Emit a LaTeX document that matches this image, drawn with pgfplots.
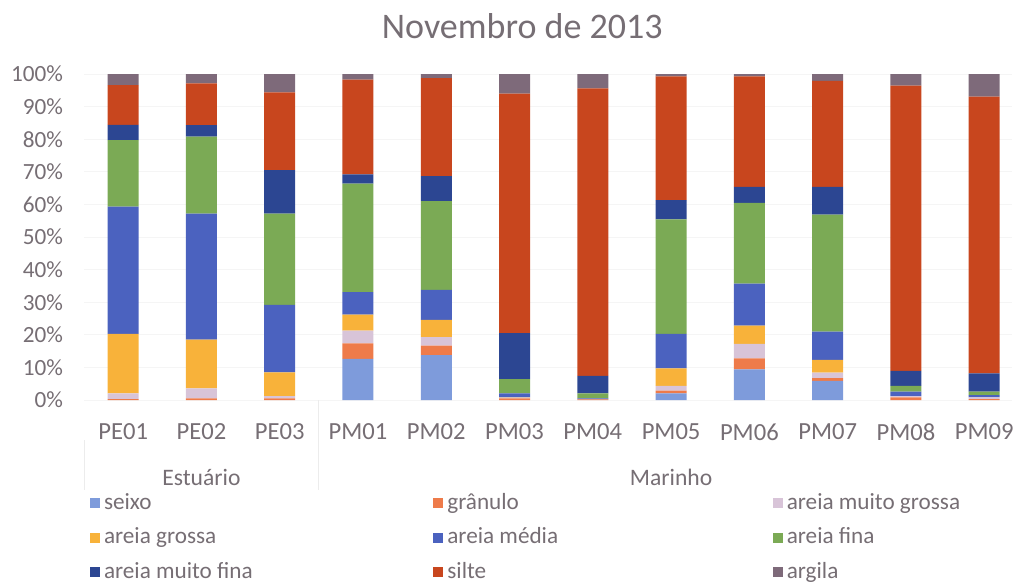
\documentclass[border=0pt]{standalone}
\usepackage{fontspec}
\setmainfont{Carlito}
\usepackage{pgfplots}
\usepackage{pgfplotstable}
\pgfplotsset{compat=1.18}

\definecolor{txt}{RGB}{118,110,116}
\definecolor{cseixo}{RGB}{126,155,219}
\definecolor{cgran}{RGB}{238,123,74}
\definecolor{camg}{RGB}{216,196,216}
\definecolor{cag}{RGB}{248,178,58}
\definecolor{cam}{RGB}{75,98,191}
\definecolor{caf}{RGB}{123,170,85}
\definecolor{camf}{RGB}{44,70,146}
\definecolor{csilte}{RGB}{200,70,30}
\definecolor{cargila}{RGB}{126,106,122}

% idx seixo granulo amg ag am af amf silte argila
\pgfplotstableread{
idx seixo gran amg ag am af amf silte argila
0  0.0  0.3 1.7 18.3 39.0 20.4  4.7 12.2 3.4
1  0.0  0.5 3.1 14.9 38.7 23.6  3.5 12.8 2.9
2  0.0  0.5 0.7  7.3 20.7 28.0 13.3 23.9 5.6
3 12.6  4.8 3.9  4.9  6.9 33.3  2.8 29.1 1.7
4 13.8  2.9 2.6  5.3  9.2 27.2  7.7 30.0 1.3
5  0.0  0.5 0.2  0.1  1.2  4.4 14.1 73.5 6.0
6  0.0  0.2 0.0  0.0  0.3  1.5  5.4 88.2 4.4
7  2.0  0.9 1.4  5.4 10.6 35.1  5.9 38.0 0.7
8  9.4  3.4 4.4  5.6 12.9 24.8  4.9 33.9 0.7
9  5.9  0.8 1.7  3.9  8.7 35.9  8.5 32.5 2.1
10 0.0  0.8 0.4  0.0  1.4  1.7  4.6 87.5 3.6
11 0.0  0.3 0.5  0.0  0.7  1.1  5.6 84.9 6.9
}\dados

\begin{document}
\begin{tikzpicture}
\path[use as bounding box] (0,0) rectangle (507pt,293pt);
\begin{axis}[
    at={(42pt,93pt)}, anchor=south west,
    scale only axis, clip=false,
    width=463.8pt, height=163pt,
    ybar stacked, bar width=15.5pt,
    xmin=-0.5, xmax=11.35,
    ymin=0, ymax=100,
    xtick=data,
    xticklabels={PE01,PE02,PE03,PM01,PM02,PM03,PM04,PM05,PM06,PM07,PM08,PM09},
    ytick={0,10,...,100},
    yticklabel={\pgfmathprintnumber{\tick}\%},
    /pgf/number format/assume math mode=true,
    ymajorgrids, grid style={gray!8},
    axis line style={draw=none},
    major tick style={draw=none},
    tick label style={text=txt},
    y tick label style={font=\fontsize{11.6}{13}\selectfont, xshift=-7pt},
    x tick label style={font=\fontsize{12.3}{14}\selectfont, anchor=center, yshift=-16pt},
    title={Novembro de 2013},
    title style={at={(0.4725,1)}, anchor=center, yshift=18pt, text=txt,
      font=\fontsize{18}{21}\selectfont},
    legend columns=3,
    legend cell align=left,
    legend style={at={(0,0)}, anchor=north west, xshift=3pt, yshift=-45.5pt,
      draw=none, fill=none, inner sep=0pt, outer sep=0pt,
      font=\fontsize{11.6}{13}\selectfont, text=txt,
      nodes={inner ysep=0pt, text height=9pt, text depth=3pt},
      row sep=5.25pt,
      /tikz/column 2/.style={column sep=88.3pt},
      /tikz/column 4/.style={column sep=105.3pt}},
    legend image code/.code={\fill[#1] (0pt,-2.5pt) rectangle (5pt,2.5pt);},
    every axis plot/.append style={draw=none},
]
\addplot[fill=cseixo] table[x=idx,y=seixo]{\dados};
\addplot[fill=cgran] table[x=idx,y=gran]{\dados};
\addplot[fill=camg] table[x=idx,y=amg]{\dados};
\addplot[fill=cag] table[x=idx,y=ag]{\dados};
\addplot[fill=cam] table[x=idx,y=am]{\dados};
\addplot[fill=caf] table[x=idx,y=af]{\dados};
\addplot[fill=camf] table[x=idx,y=amf]{\dados};
\addplot[fill=csilte] table[x=idx,y=silte]{\dados};
\addplot[fill=cargila] table[x=idx,y=argila]{\dados};
\legend{seixo,grânulo,areia muito grossa,areia grossa,areia média,areia fina,areia muito fina,silte,argila}
\draw[gray!15] ([yshift=-20pt]axis cs:-0.5,0) -- ([yshift=-45pt]axis cs:-0.5,0);
\draw[gray!15] (axis cs:2.5,0) -- ([yshift=-45pt]axis cs:2.5,0);
\node[text=txt, font=\fontsize{11.8}{14}\selectfont] at ([yshift=-38.5pt]axis cs:1,0) {Estuário};
\node[text=txt, font=\fontsize{11.8}{14}\selectfont] at ([yshift=-38.5pt]axis cs:7,0) {Marinho};
\end{axis}
\end{tikzpicture}
\end{document}
